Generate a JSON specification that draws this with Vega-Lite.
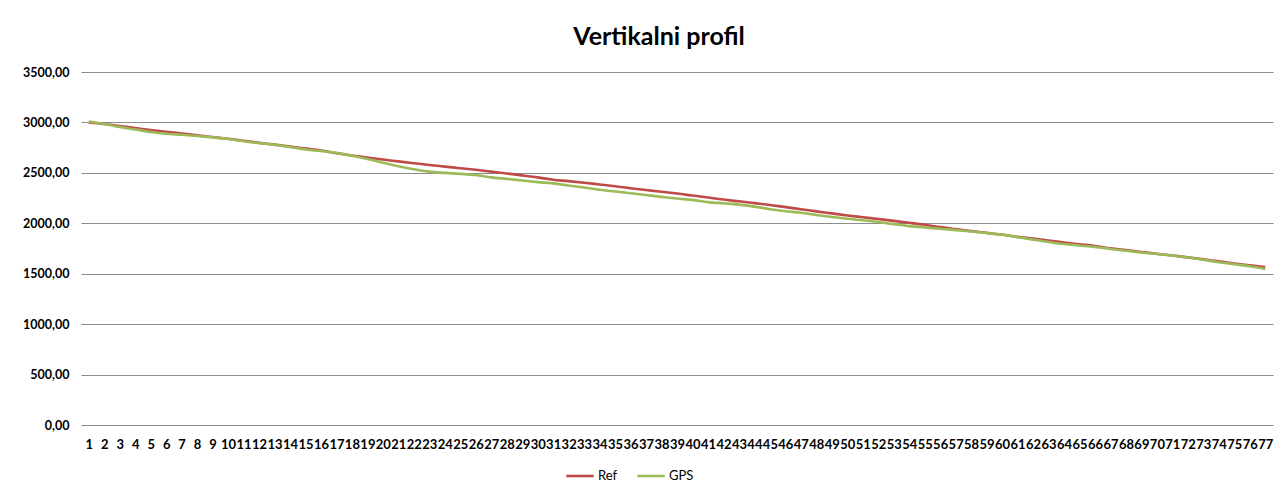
{
  "$schema": "https://vega.github.io/schema/vega-lite/v6.json",
  "width": 1192,
  "height": 353,
  "autosize": {"type": "none"},
  "padding": {"left": 81, "top": 72, "right": 11, "bottom": 64},
  "background": "white",
  "title": {
    "text": "Vertikalni profil",
    "font": "Lato",
    "fontSize": 25,
    "fontWeight": "bold",
    "color": "#000000",
    "anchor": "middle",
    "dx": -18,
    "offset": 16
  },
  "data": {
    "values": [
      {"i":1,"Ref":3000,"GPS":3010},{"i":2,"Ref":2985,"GPS":2985},{"i":3,"Ref":2965,"GPS":2955},{"i":4,"Ref":2945,"GPS":2930},
      {"i":5,"Ref":2925,"GPS":2905},{"i":6,"Ref":2908,"GPS":2888},{"i":7,"Ref":2890,"GPS":2878},{"i":8,"Ref":2872,"GPS":2866},
      {"i":9,"Ref":2855,"GPS":2852},{"i":10,"Ref":2838,"GPS":2836},{"i":11,"Ref":2818,"GPS":2814},{"i":12,"Ref":2798,"GPS":2795},
      {"i":13,"Ref":2780,"GPS":2778},{"i":14,"Ref":2760,"GPS":2756},{"i":15,"Ref":2740,"GPS":2732},{"i":16,"Ref":2722,"GPS":2716},
      {"i":17,"Ref":2695,"GPS":2698},{"i":18,"Ref":2672,"GPS":2670},{"i":19,"Ref":2652,"GPS":2638},{"i":20,"Ref":2632,"GPS":2600},
      {"i":21,"Ref":2614,"GPS":2565},{"i":22,"Ref":2596,"GPS":2535},{"i":23,"Ref":2578,"GPS":2512},{"i":24,"Ref":2562,"GPS":2500},
      {"i":25,"Ref":2546,"GPS":2490},{"i":26,"Ref":2530,"GPS":2478},{"i":27,"Ref":2512,"GPS":2455},{"i":28,"Ref":2494,"GPS":2440},
      {"i":29,"Ref":2475,"GPS":2424},{"i":30,"Ref":2455,"GPS":2408},{"i":31,"Ref":2432,"GPS":2396},{"i":32,"Ref":2418,"GPS":2374},
      {"i":33,"Ref":2402,"GPS":2355},{"i":34,"Ref":2385,"GPS":2332},{"i":35,"Ref":2368,"GPS":2315},{"i":36,"Ref":2348,"GPS":2298},
      {"i":37,"Ref":2330,"GPS":2280},{"i":38,"Ref":2312,"GPS":2262},{"i":39,"Ref":2295,"GPS":2245},{"i":40,"Ref":2275,"GPS":2232},
      {"i":41,"Ref":2255,"GPS":2210},{"i":42,"Ref":2235,"GPS":2198},{"i":43,"Ref":2218,"GPS":2185},{"i":44,"Ref":2200,"GPS":2165},
      {"i":45,"Ref":2182,"GPS":2140},{"i":46,"Ref":2160,"GPS":2120},{"i":47,"Ref":2140,"GPS":2105},{"i":48,"Ref":2118,"GPS":2082},
      {"i":49,"Ref":2098,"GPS":2062},{"i":50,"Ref":2078,"GPS":2045},{"i":51,"Ref":2060,"GPS":2030},{"i":52,"Ref":2042,"GPS":2012},
      {"i":53,"Ref":2024,"GPS":1992},{"i":54,"Ref":2005,"GPS":1972},{"i":55,"Ref":1985,"GPS":1958},{"i":56,"Ref":1962,"GPS":1946},
      {"i":57,"Ref":1942,"GPS":1932},{"i":58,"Ref":1922,"GPS":1918},{"i":59,"Ref":1905,"GPS":1903},{"i":60,"Ref":1888,"GPS":1886},
      {"i":61,"Ref":1866,"GPS":1862},{"i":62,"Ref":1848,"GPS":1838},{"i":63,"Ref":1828,"GPS":1815},{"i":64,"Ref":1810,"GPS":1795},
      {"i":65,"Ref":1792,"GPS":1780},{"i":66,"Ref":1775,"GPS":1765},{"i":67,"Ref":1752,"GPS":1745},{"i":68,"Ref":1734,"GPS":1728},
      {"i":69,"Ref":1716,"GPS":1710},{"i":70,"Ref":1698,"GPS":1695},{"i":71,"Ref":1680,"GPS":1680},{"i":72,"Ref":1662,"GPS":1660},
      {"i":73,"Ref":1643,"GPS":1638},{"i":74,"Ref":1622,"GPS":1614},{"i":75,"Ref":1602,"GPS":1594},{"i":76,"Ref":1584,"GPS":1574},
      {"i":77,"Ref":1565,"GPS":1548}
    ]
  },
  "transform": [{"fold": ["Ref", "GPS"], "as": ["series", "value"]}],
  "mark": {"type": "line", "strokeWidth": 2.6, "interpolate": "monotone"},
  "encoding": {
    "x": {
      "field": "i",
      "type": "ordinal",
      "scale": {"type": "point", "padding": 0.5},
      "axis": {
        "title": null,
        "labelAngle": 0,
        "labelOverlap": false,
        "ticks": false,
        "domain": false,
        "labelPadding": 13,
        "labelFont": "Lato",
        "labelFontSize": 13,
        "labelFontWeight": "bold",
        "labelColor": "#000000"
      }
    },
    "y": {
      "field": "value",
      "type": "quantitative",
      "scale": {"domain": [0, 3500], "nice": false},
      "axis": {
        "title": null,
        "values": [0, 500, 1000, 1500, 2000, 2500, 3000, 3500],
        "labelExpr": "replace(format(datum.value, '.2f'), '.', ',')",
        "ticks": false,
        "domain": false,
        "grid": true,
        "gridColor": "#8c8c8c",
        "gridWidth": 1,
        "labelPadding": 12,
        "labelFont": "Lato",
        "labelFontSize": 12.5,
        "labelFontWeight": "bold",
        "labelColor": "#000000"
      }
    },
    "color": {
      "field": "series",
      "type": "nominal",
      "scale": {"domain": ["Ref", "GPS"], "range": ["#BE4B48", "#9BBB59"]},
      "legend": {
        "title": null,
        "orient": "none",
        "direction": "horizontal",
        "legendX": 484,
        "legendY": 389,
        "symbolType": "stroke",
        "symbolSize": 750,
        "symbolStrokeWidth": 2.6,
        "labelFont": "Lato",
        "labelFontSize": 13,
        "labelColor": "#000000",
        "labelOffset": 3,
        "columnPadding": 14
      }
    }
  },
  "config": {"view": {"stroke": null}}
}
